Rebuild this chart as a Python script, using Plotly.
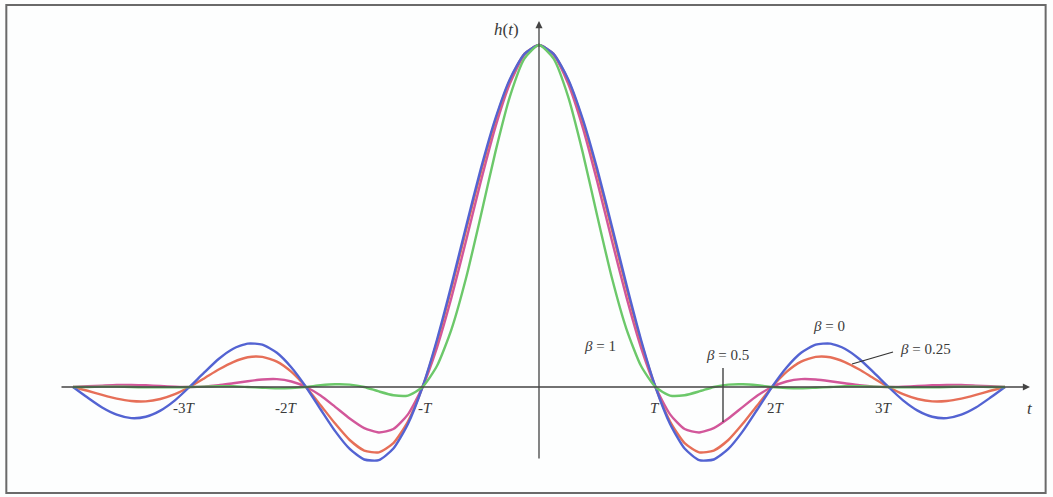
import plotly.graph_objects as go

# Time axis in units of the symbol period T (sampled every T/8)
t = [-4.0, -3.875, -3.75, -3.625, -3.5, -3.375, -3.25, -3.125,
     -3.0, -2.875, -2.75, -2.625, -2.5, -2.375, -2.25, -2.125,
     -2.0, -1.875, -1.75, -1.625, -1.5, -1.375, -1.25, -1.125,
     -1.0, -0.875, -0.75, -0.625, -0.5, -0.375, -0.25, -0.125,
     0.0,
     0.125, 0.25, 0.375, 0.5, 0.625, 0.75, 0.875, 1.0,
     1.125, 1.25, 1.375, 1.5, 1.625, 1.75, 1.875, 2.0,
     2.125, 2.25, 2.375, 2.5, 2.625, 2.75, 2.875, 3.0,
     3.125, 3.25, 3.375, 3.5, 3.625, 3.75, 3.875, 4.0]

# Pulse amplitude h(t) for each roll-off factor
h_beta_0 = [0.0, -0.031, -0.060, -0.081, -0.091, -0.087, -0.069, -0.039,
            0.0, 0.042, 0.082, 0.112, 0.127, 0.124, 0.100, 0.057,
            0.0, -0.065, -0.129, -0.181, -0.212, -0.214, -0.180, -0.108,
            0.0, 0.139, 0.300, 0.471, 0.637, 0.784, 0.900, 0.974,
            1.0,
            0.974, 0.900, 0.784, 0.637, 0.471, 0.300, 0.139, 0.0,
            -0.108, -0.180, -0.214, -0.212, -0.181, -0.129, -0.065, 0.0,
            0.057, 0.100, 0.124, 0.127, 0.112, 0.082, 0.042, 0.0,
            -0.039, -0.069, -0.087, -0.091, -0.081, -0.060, -0.031, 0.0]
h_beta_025 = [0.0, -0.011, -0.023, -0.034, -0.041, -0.042, -0.035, -0.021,
              0.0, 0.025, 0.051, 0.073, 0.087, 0.088, 0.074, 0.044,
              0.0, -0.053, -0.107, -0.155, -0.186, -0.191, -0.164, -0.101,
              0.0, 0.133, 0.290, 0.460, 0.627, 0.778, 0.897, 0.974,
              1.0,
              0.974, 0.897, 0.778, 0.627, 0.460, 0.290, 0.133, 0.0,
              -0.101, -0.164, -0.191, -0.186, -0.155, -0.107, -0.053, 0.0,
              0.044, 0.074, 0.088, 0.087, 0.073, 0.051, 0.025, 0.0,
              -0.021, -0.035, -0.042, -0.041, -0.034, -0.023, -0.011, 0.0]
h_beta_05 = [0.0, 0.002, 0.004, 0.006, 0.006, 0.005, 0.003, 0.001,
             0.0, 0.001, 0.005, 0.011, 0.017, 0.022, 0.023, 0.016,
             0.0, -0.025, -0.058, -0.092, -0.120, -0.133, -0.123, -0.080,
             0.0, 0.116, 0.263, 0.429, 0.600, 0.759, 0.887, 0.971,
             1.0,
             0.971, 0.887, 0.759, 0.600, 0.429, 0.263, 0.116, 0.0,
             -0.080, -0.123, -0.133, -0.120, -0.092, -0.058, -0.025, 0.0,
             0.016, 0.023, 0.022, 0.017, 0.011, 0.005, 0.001, 0.0,
             0.001, 0.003, 0.005, 0.006, 0.006, 0.004, 0.002, 0.0]
h_beta_1 = [0.0, 0.0, 0.001, 0.001, 0.0, -0.001, -0.001, -0.001,
            0.0, 0.001, 0.002, 0.002, 0.0, -0.002, -0.004, -0.003,
            0.0, 0.005, 0.008, 0.007, 0.0, -0.013, -0.024, -0.025,
            0.0, 0.062, 0.170, 0.320, 0.500, 0.686, 0.849, 0.960,
            1.0,
            0.960, 0.849, 0.686, 0.500, 0.320, 0.170, 0.062, 0.0,
            -0.025, -0.024, -0.013, 0.0, 0.007, 0.008, 0.005, 0.0,
            -0.003, -0.004, -0.002, 0.0, 0.002, 0.002, 0.001, 0.0,
            -0.001, -0.001, -0.001, 0.0, 0.001, 0.001, 0.0, 0.0]

tick_pos = [-3, -2, -1, 1, 2, 3]
tick_text = ["-3<i>T</i>", "-2<i>T</i>", "-<i>T</i>", "<i>T</i>", "2<i>T</i>", "3<i>T</i>"]

W, H = 1053, 497
X0_PX, T_PX = 539.0, 116.5      # pixel of t = 0 and pixels per T
Y0_PX, U_PX = 387.0, 342.0      # pixel of h = 0 and pixels per unit amplitude


def px_x(p):
    return (p - X0_PX) / T_PX


def px_y(p):
    return (Y0_PX - p) / U_PX


SERIF = "Liberation Serif"
TXT = "#3a3a3a"

fig = go.Figure()
series = [
    (h_beta_05, "#d2579a"),
    (h_beta_025, "#e66f58"),
    (h_beta_0, "#5363d2"),
    (h_beta_1, "#6cc86a"),
]
for vals, col in series:
    fig.add_trace(go.Scatter(x=t, y=vals, mode="lines",
                             line=dict(color=col, width=2.4, shape="spline", smoothing=0.6),
                             hoverinfo="skip", showlegend=False))

shapes = [
    # outer frame
    dict(type="rect", xref="paper", yref="paper", x0=0.006, x1=0.993, y0=0.008, y1=0.99,
         line=dict(color="#6a6a6a", width=2)),
    # leader for beta = 0.5
    dict(type="line", x0=px_x(723), x1=px_x(723), y0=px_y(368), y1=px_y(422),
         line=dict(color="#333333", width=1.3)),
    # leader for beta = 0.25
    dict(type="line", x0=px_x(893), x1=px_x(852), y0=px_y(352), y1=px_y(364),
         line=dict(color="#333333", width=1.3)),
]

annotations = [
    # x axis with arrow
    dict(x=px_x(1030), y=0, ax=px_x(60), ay=0, xref="x", yref="y", axref="x", ayref="y",
         text="", showarrow=True, arrowhead=2, arrowsize=1.1, arrowwidth=1.3, arrowcolor="#444444"),
    # y axis with arrow
    dict(x=0, y=px_y(21), ax=0, ay=px_y(460), xref="x", yref="y", axref="x", ayref="y",
         text="", showarrow=True, arrowhead=2, arrowsize=1.1, arrowwidth=1.3, arrowcolor="#444444"),
    dict(x=px_x(1030), y=px_y(408), text="<i>t</i>", showarrow=False,
         font=dict(family=SERIF, size=17, color=TXT)),
    dict(x=px_x(506), y=px_y(29), text="<i>h</i>(<i>t</i>)", showarrow=False,
         font=dict(family=SERIF, size=17, color=TXT)),
    dict(x=px_x(600), y=px_y(346), text="<i>β</i> = 1", showarrow=False,
         font=dict(family=SERIF, size=15, color=TXT)),
    dict(x=px_x(727), y=px_y(355), text="<i>β</i> = 0.5", showarrow=False,
         font=dict(family=SERIF, size=15, color=TXT)),
    dict(x=px_x(829), y=px_y(326), text="<i>β</i> = 0", showarrow=False,
         font=dict(family=SERIF, size=15, color=TXT)),
    dict(x=px_x(925), y=px_y(349), text="<i>β</i> = 0.25", showarrow=False,
         font=dict(family=SERIF, size=15, color=TXT)),
]

label_px = [184, 286, 425, 655, 776, 884]
for pos, txt, lp in zip(tick_pos, tick_text, label_px):
    annotations.append(dict(x=px_x(lp), y=px_y(408), text=txt, showarrow=False,
                            font=dict(family=SERIF, size=15, color=TXT)))

fig.update_layout(
    width=W, height=H,
    margin=dict(l=0, r=0, t=0, b=0),
    paper_bgcolor="#fdfefe", plot_bgcolor="#fdfefe",
    xaxis=dict(range=[px_x(0), px_x(W)], visible=False, fixedrange=True),
    yaxis=dict(range=[px_y(H), px_y(0)], visible=False, fixedrange=True),
    shapes=shapes, annotations=annotations,
)

fig.write_html("out.html")
